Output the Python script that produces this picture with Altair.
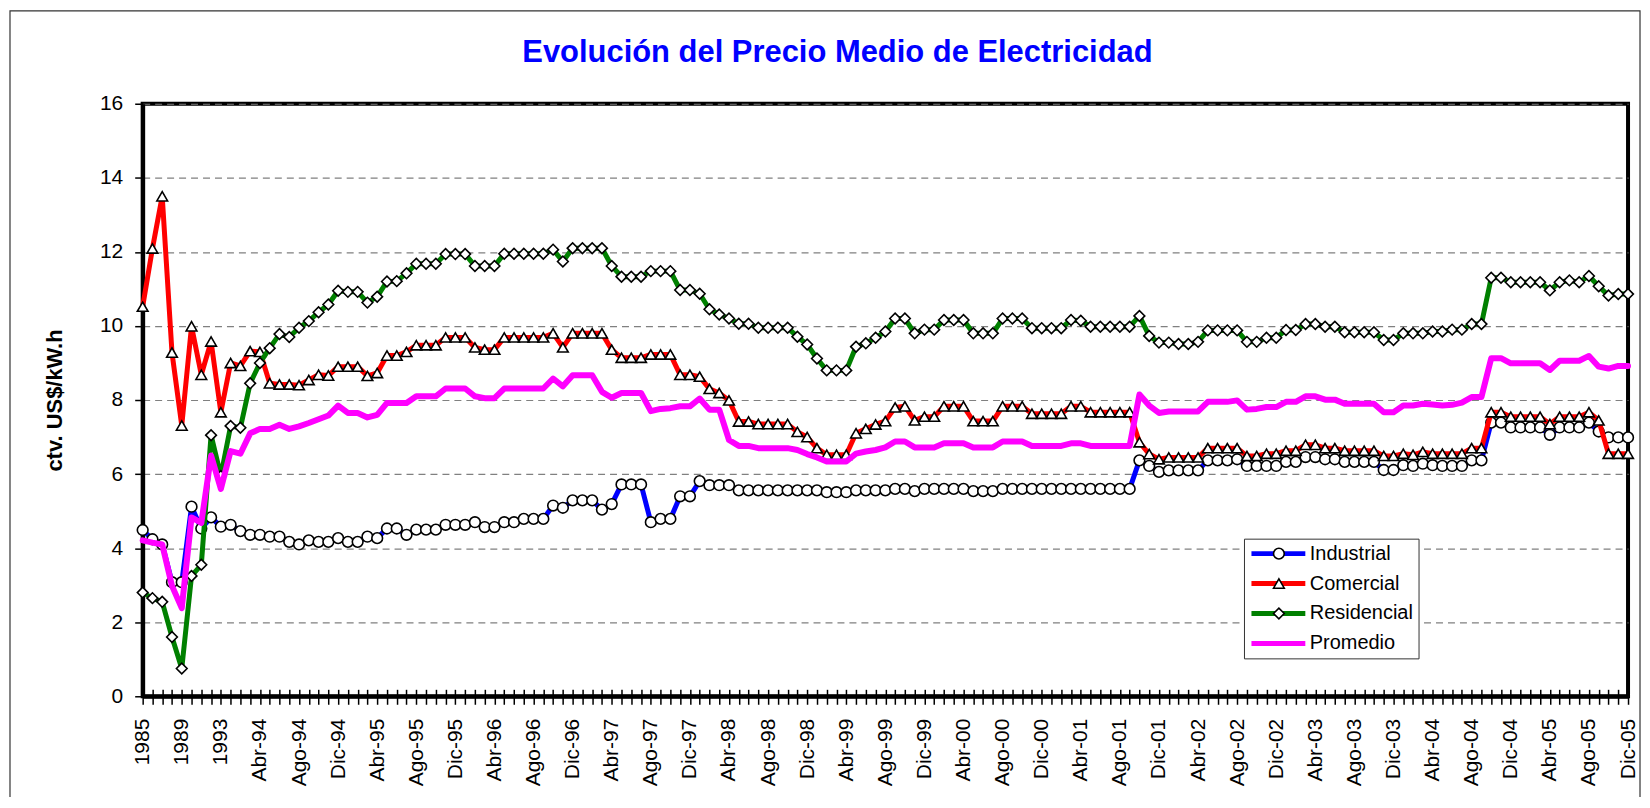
import json
import altair as alt
import pandas as pd

# ---------------- data ----------------
anios = ["1985", "1986", "1987", "1988", "1989", "1990", "1991", "1992", "1993"]
meses = ["Ene", "Feb", "Mar", "Abr", "May", "Jun", "Jul", "Ago", "Sep", "Oct", "Nov", "Dic"]
anios_mensuales = ["94", "95", "96", "97", "98", "99", "00", "01", "02", "03", "04", "05"]
periodos = anios + [f"{m}-{a}" for a in anios_mensuales for m in meses]

industrial = [
    4.49, 4.24, 4.10, 3.08, 3.08, 5.12, 4.53, 4.83, 4.58, 4.63,
    4.46, 4.36, 4.36, 4.31, 4.31, 4.17, 4.10, 4.21, 4.17, 4.17,
    4.27, 4.17, 4.17, 4.31, 4.27, 4.53, 4.53, 4.36, 4.50, 4.50,
    4.50, 4.63, 4.63, 4.63, 4.70, 4.57, 4.57, 4.70, 4.70, 4.79,
    4.79, 4.79, 5.15, 5.09, 5.29, 5.29, 5.29, 5.04, 5.19, 5.72,
    5.72, 5.72, 4.70, 4.79, 4.79, 5.40, 5.40, 5.81, 5.70, 5.70,
    5.70, 5.56, 5.56, 5.56, 5.56, 5.56, 5.56, 5.56, 5.56, 5.56,
    5.51, 5.51, 5.51, 5.56, 5.56, 5.56, 5.56, 5.60, 5.60, 5.54,
    5.60, 5.60, 5.60, 5.60, 5.60, 5.54, 5.54, 5.54, 5.60, 5.60,
    5.60, 5.60, 5.60, 5.60, 5.60, 5.60, 5.60, 5.60, 5.60, 5.60,
    5.60, 5.60, 6.37, 6.22, 6.06, 6.10, 6.10, 6.10, 6.10, 6.37,
    6.37, 6.37, 6.40, 6.22, 6.22, 6.22, 6.22, 6.33, 6.33, 6.46,
    6.46, 6.40, 6.40, 6.33, 6.33, 6.33, 6.33, 6.11, 6.11, 6.24,
    6.22, 6.28, 6.24, 6.22, 6.22, 6.22, 6.37, 6.37, 7.39, 7.39,
    7.26, 7.26, 7.26, 7.26, 7.06, 7.26, 7.26, 7.26, 7.39, 7.15,
    6.99, 6.99, 6.99,
]
comercial = [
    10.52, 12.09, 13.50, 9.28, 7.31, 9.99, 8.68, 9.58, 7.67, 9.00,
    8.92, 9.32, 9.30, 8.45, 8.42, 8.42, 8.40, 8.54, 8.68, 8.66,
    8.90, 8.90, 8.90, 8.65, 8.73, 9.20, 9.20, 9.30, 9.48, 9.48,
    9.48, 9.69, 9.69, 9.69, 9.42, 9.36, 9.36, 9.69, 9.69, 9.69,
    9.69, 9.69, 9.80, 9.42, 9.80, 9.80, 9.80, 9.80, 9.36, 9.14,
    9.14, 9.14, 9.23, 9.23, 9.23, 8.68, 8.68, 8.63, 8.30, 8.19,
    7.99, 7.42, 7.42, 7.35, 7.35, 7.35, 7.35, 7.14, 7.00, 6.70,
    6.52, 6.52, 6.52, 7.10, 7.22, 7.34, 7.43, 7.80, 7.83, 7.45,
    7.55, 7.55, 7.83, 7.83, 7.83, 7.43, 7.43, 7.43, 7.83, 7.83,
    7.83, 7.63, 7.63, 7.63, 7.63, 7.83, 7.83, 7.67, 7.67, 7.67,
    7.67, 7.67, 6.86, 6.54, 6.40, 6.45, 6.45, 6.45, 6.45, 6.70,
    6.70, 6.70, 6.70, 6.49, 6.49, 6.55, 6.55, 6.63, 6.63, 6.79,
    6.79, 6.70, 6.70, 6.63, 6.63, 6.63, 6.63, 6.49, 6.49, 6.55,
    6.52, 6.60, 6.55, 6.55, 6.55, 6.55, 6.70, 6.70, 7.67, 7.67,
    7.55, 7.55, 7.55, 7.55, 7.35, 7.55, 7.55, 7.55, 7.67, 7.45,
    6.55, 6.55, 6.55,
]
residencial = [
    2.80, 2.65, 2.55, 1.60, 0.75, 3.25, 3.55, 7.05, 5.95, 7.30,
    7.25, 8.45, 9.00, 9.40, 9.78, 9.70, 9.95, 10.13, 10.37, 10.58,
    10.95, 10.92, 10.92, 10.63, 10.79, 11.20, 11.21, 11.42, 11.68, 11.68,
    11.68, 11.94, 11.94, 11.94, 11.62, 11.62, 11.62, 11.95, 11.95, 11.95,
    11.95, 11.95, 12.06, 11.74, 12.10, 12.10, 12.10, 12.10, 11.62, 11.33,
    11.33, 11.33, 11.48, 11.48, 11.48, 10.97, 10.97, 10.87, 10.45, 10.31,
    10.20, 10.06, 10.06, 9.95, 9.95, 9.95, 9.95, 9.71, 9.50, 9.12,
    8.80, 8.80, 8.80, 9.44, 9.53, 9.68, 9.85, 10.20, 10.20, 9.80,
    9.90, 9.90, 10.16, 10.16, 10.16, 9.80, 9.80, 9.80, 10.20, 10.20,
    10.20, 9.94, 9.94, 9.94, 9.94, 10.16, 10.14, 9.98, 9.98, 9.98,
    9.98, 9.98, 10.27, 9.73, 9.55, 9.55, 9.51, 9.51, 9.57, 9.88,
    9.88, 9.88, 9.88, 9.57, 9.57, 9.68, 9.68, 9.89, 9.89, 10.05,
    10.05, 9.98, 9.98, 9.83, 9.83, 9.83, 9.83, 9.62, 9.62, 9.80,
    9.80, 9.80, 9.85, 9.85, 9.90, 9.90, 10.05, 10.05, 11.30, 11.30,
    11.18, 11.18, 11.18, 11.18, 10.96, 11.18, 11.23, 11.18, 11.35, 11.07,
    10.82, 10.86, 10.86,
]
promedio = [
    4.21, 4.15, 4.10, 2.98, 2.38, 4.83, 4.68, 6.50, 5.60, 6.62,
    6.55, 7.10, 7.22, 7.22, 7.33, 7.22, 7.29, 7.38, 7.48, 7.58,
    7.85, 7.65, 7.65, 7.53, 7.60, 7.92, 7.92, 7.92, 8.10, 8.10,
    8.10, 8.31, 8.31, 8.31, 8.10, 8.05, 8.05, 8.31, 8.31, 8.31,
    8.31, 8.31, 8.58, 8.37, 8.67, 8.67, 8.67, 8.22, 8.06, 8.19,
    8.19, 8.19, 7.70, 7.76, 7.78, 7.83, 7.83, 8.04, 7.74, 7.74,
    6.92, 6.76, 6.76, 6.70, 6.70, 6.70, 6.70, 6.65, 6.54, 6.45,
    6.34, 6.34, 6.34, 6.55, 6.61, 6.65, 6.72, 6.88, 6.88, 6.72,
    6.72, 6.72, 6.83, 6.83, 6.83, 6.72, 6.72, 6.72, 6.88, 6.88,
    6.88, 6.76, 6.76, 6.76, 6.76, 6.83, 6.83, 6.76, 6.76, 6.76,
    6.76, 6.76, 8.15, 7.85, 7.65, 7.69, 7.69, 7.69, 7.69, 7.95,
    7.95, 7.95, 7.99, 7.74, 7.76, 7.81, 7.81, 7.95, 7.95, 8.10,
    8.10, 8.01, 8.01, 7.90, 7.90, 7.90, 7.90, 7.67, 7.67, 7.85,
    7.85, 7.90, 7.88, 7.85, 7.87, 7.93, 8.08, 8.08, 9.13, 9.13,
    8.99, 8.99, 8.99, 8.99, 8.81, 9.06, 9.06, 9.06, 9.19, 8.90,
    8.85, 8.92, 8.92,
]

series = ["Industrial", "Comercial", "Residencial", "Promedio"]
colores = ["#0000FF", "#FF0000", "#008000", "#FF00FF"]
formas = ["circle", "triangle-up", "diamond"]
rellenos = ["white", "white", "white"]
bordes = ["black", "black", "black"]
ticks_y = [0, 2, 4, 6, 8, 10, 12, 14, 16]

filas = []
for nombre, valores in zip(series, [industrial, comercial, residencial, promedio]):
    for i, (p, v) in enumerate(zip(periodos, valores)):
        filas.append({"idx": i, "periodo": p, "serie": nombre, "valor": v})
df = pd.DataFrame(filas)

# ---------------- chart ----------------
FONT = "Liberation Sans"
W, H = 1489, 594
n = len(periodos)

label_expr = "datum.value % 4 == 0 ? " + json.dumps(periodos) + "[datum.value] : ''"

x_scale = alt.Scale(domain=[0, n - 1], nice=False, zero=False)
y_scale = alt.Scale(domain=[0, 16], nice=False)

eje_x = alt.Axis(orient="bottom", values=list(range(n)), labelExpr=label_expr,
                 labelAngle=270, labelFont=FONT, labelFontSize=21, labelColor="black",
                 labelPadding=14, labelOverlap=False, labelFlush=False,
                 tickSize=8, tickColor="black", tickWidth=1.5,
                 domainColor="black", domainWidth=4, grid=False, title=None)
eje_x_int = alt.Axis(orient="top", offset=-H, values=list(range(n)), labels=False,
                     domain=False, tickSize=7, tickColor="black", tickWidth=1.5,
                     grid=False, title=None)
eje_y = alt.Axis(values=ticks_y, labelFont=FONT, labelFontSize=21, labelColor="black",
                 labelPadding=12, labelFlush=False, tickSize=8, tickColor="black",
                 tickWidth=1.5, domainColor="black", domainWidth=4,
                 grid=True, gridColor="#808080", gridDash=[7, 5], gridWidth=1.2,
                 title="ctv. US$/kW.h", titleFont=FONT, titleFontSize=22,
                 titleFontWeight="bold", titleColor="black", titlePadding=33)

leyenda_color = alt.Legend(title=None, orient="none", legendX=1104, legendY=436,
                           direction="vertical", symbolType="stroke", symbolSize=2916,
                           symbolStrokeWidth=5, clipHeight=20, labelFont=FONT,
                           labelFontSize=20, labelColor="black", labelOffset=2,
                           rowPadding=10, padding=5, strokeColor="#333333",
                           fillColor="white", zindex=1)
leyenda_forma = alt.Legend(title=None, orient="none", legendX=1124, legendY=436,
                           direction="vertical", symbolSize=115,
                           symbolStrokeWidth=1.6, symbolOpacity=1, clipHeight=20,
                           labelFont=FONT, labelFontSize=20, labelExpr="''",
                           labelOffset=2, rowPadding=10, padding=5, zindex=2)

color_enc = alt.Color("serie:N", scale=alt.Scale(domain=series, range=colores),
                      legend=leyenda_color)
shape_enc = alt.Shape("serie:N", scale=alt.Scale(domain=series[:3], range=formas),
                      legend=leyenda_forma)
fill_enc = alt.Fill("serie:N", scale=alt.Scale(domain=series[:3], range=rellenos),
                    legend=leyenda_forma)
stroke_enc = alt.Stroke("serie:N", scale=alt.Scale(domain=series[:3], range=bordes),
                        legend=leyenda_forma)
y_enc = alt.Y("valor:Q", scale=y_scale, axis=eje_y)


def x_enc(axis):
    return alt.X("idx:Q", scale=x_scale, axis=axis)


marco = alt.Chart(pd.DataFrame({"marco": [0]})).mark_rect(
    fillOpacity=0, stroke="#333333", strokeWidth=1.2
).encode(x=alt.value(-133), x2=alt.value(1501), y=alt.value(-93), y2=alt.value(800))

capas = [marco]
base = alt.Chart(df)
for k, nombre in enumerate(series):
    datos = base.transform_filter(alt.datum.serie == nombre)
    ancho = 6 if nombre == "Promedio" else 5
    linea = datos.mark_line(strokeWidth=ancho, strokeJoin="round", strokeCap="round").encode(
        x=x_enc(eje_x if k == 0 else None), y=y_enc, color=color_enc
    )
    capas.append(linea)
    if nombre != "Promedio":
        puntos = datos.mark_point(filled=True, strokeWidth=1.6, size=115, opacity=1).encode(
            x=x_enc(eje_x_int if k == 0 else None), y=y_enc,
            shape=shape_enc, fill=fill_enc, stroke=stroke_enc
        )
        capas.append(puntos)

titulo = alt.TitleParams(text="Evolución del Precio Medio de Electricidad", font=FONT,
                         fontSize=31, fontWeight="bold", color="#0000FF",
                         anchor="middle", frame="group", dx=-48,
                         baseline="alphabetic", offset=-83)

chart = alt.layer(*capas).resolve_axis(x="independent").properties(
    width=W, height=H, title=titulo,
    autosize=alt.AutoSizeParams(type="none"),
    padding={"left": 135, "top": 95, "right": 14, "bottom": 100},
    background="white",
).configure_view(stroke="black", strokeWidth=4)

chart.save("out.html", embed_options={"renderer": "svg", "actions": False})
